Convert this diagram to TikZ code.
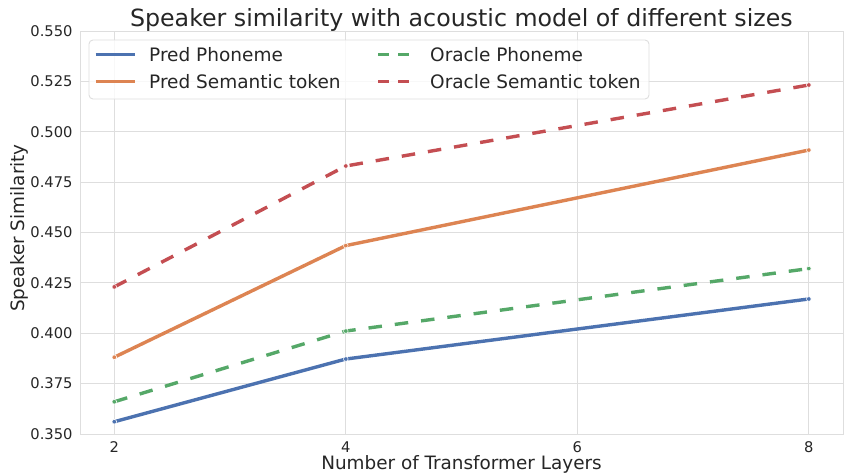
\documentclass[tikz,border=0pt]{standalone}
\usepackage{fontspec}
\setmainfont{DejaVu Sans}
\definecolor{txt}{RGB}{38,38,38}
\definecolor{gridc}{RGB}{222,222,222}
\definecolor{cblue}{HTML}{4C72B0}
\definecolor{corange}{HTML}{DD8452}
\definecolor{cgreen}{HTML}{55A868}
\definecolor{cred}{HTML}{C44E52}
\tikzset{
  gridline/.style={draw=gridc, line width=1pt},
  ticklab/.style={text=txt, inner sep=0pt, font=\fontsize{14.7}{17}\selectfont},
  leglab/.style={text=txt, inner sep=0pt, anchor=base west, font=\fontsize{18.5}{21}\selectfont},
  axlab/.style={text=txt, inner sep=0pt, anchor=base, font=\fontsize{18.4}{21}\selectfont},
  series/.style={line width=3.4pt, line join=round},
  dashedseries/.style={series, dash pattern=on 13.5pt off 13pt},
  legline/.style={line width=3pt},
  legdash/.style={line width=3pt, dash pattern=on 10.7pt off 9.7pt},
  mk/.style={circle, inner sep=0pt, minimum size=4.6pt, fill=#1, draw=white, line width=0.5pt}
}
\begin{document}
\begin{tikzpicture}[x=1pt,y=-1pt]
\useasboundingbox (0,0) rectangle (847,474);
\fill[white] (0,0) rectangle (847,474);
% horizontal grid + y tick labels
\foreach \k/\lab in {0/0.350,1/0.375,2/0.400,3/0.425,4/0.450,5/0.475,6/0.500,7/0.525,8/0.550}{
  \draw[gridline] (80,{434-\k*50.375}) -- (843,{434-\k*50.375});
  \node[ticklab, anchor=east] (ytl\k) at (72.7,{434-\k*50.375}) {\lab};
}
% axes frame
\draw[gridline] (80,31) rectangle (843,434);
% data scope
\begin{scope}[shift={(-117.2pt,-1139.25pt)}, x=115.75pt, y=2015pt]
  \foreach \v in {2,4,6,8}{
    \draw[gridline] (\v,0.35) -- (\v,0.55);
  }
  \coordinate (pp2) at (2,0.3561); \coordinate (pp4) at (4,0.3872); \coordinate (pp8) at (8,0.4170);
  \coordinate (ps2) at (2,0.3881); \coordinate (ps4) at (4,0.4435); \coordinate (ps8) at (8,0.4909);
  \coordinate (op2) at (2,0.3660); \coordinate (op4) at (4,0.4011); \coordinate (op8) at (8,0.4321);
  \coordinate (os2) at (2,0.4230); \coordinate (os4) at (4,0.4830); \coordinate (os8) at (8,0.5232);
\end{scope}
% x tick labels
\foreach \v/\px in {2/114.3,4/345.8,6/577.3,8/808.8}{
  \node[ticklab, anchor=north] (xtl\v) at (\px,441.7) {\v};
}
% series
\draw[series, cblue] (pp2) -- (pp4) -- (pp8);
\draw[series, corange] (ps2) -- (ps4) -- (ps8);
\draw[dashedseries, cgreen] (op2) -- (op4) -- (op8);
\draw[dashedseries, cred] (os2) -- (os4) -- (os8);
\foreach \p in {pp2,pp4,pp8}{\node[mk=cblue] (m\p) at (\p) {};}
\foreach \p in {ps2,ps4,ps8}{\node[mk=corange] (m\p) at (\p) {};}
\foreach \p in {op2,op4,op8}{\node[mk=cgreen] (m\p) at (\p) {};}
\foreach \p in {os2,os4,os8}{\node[mk=cred] (m\p) at (\p) {};}
% legend
\draw[draw=gridc, line width=0.9pt, fill=white, fill opacity=0.8, rounded corners=4pt] (89,40) rectangle (649,99);
\coordinate (l1a) at (95.7,54.3); \coordinate (l1b) at (135,54.3);
\coordinate (l2a) at (95.7,81); \coordinate (l2b) at (135,81);
\coordinate (l3a) at (378,54.3); \coordinate (l3b) at (408.8,54.3);
\coordinate (l4a) at (378,81); \coordinate (l4b) at (408.8,81);
\draw[legline, cblue] (l1a) -- (l1b);
\draw[legline, corange] (l2a) -- (l2b);
\draw[legdash, cgreen] (l3a) -- (l3b);
\draw[legdash, cred] (l4a) -- (l4b);
\node[leglab] (t1) at (149,61.7) {Pred Phoneme};
\node[leglab] (t2) at (149,88.4) {Pred Semantic token};
\node[leglab] (t3) at (430,61.7) {Oracle Phoneme};
\node[leglab] (t4) at (430,88.4) {Oracle Semantic token};
% labels
\node[axlab] (xlab) at (461.5,469.6) {Number of Transformer Layers};
\node[axlab, rotate=90] (ylab) at (24,228) {Speaker Similarity};
\node[text=txt, inner sep=0pt, anchor=base, font=\fontsize{23.7}{28}\selectfont] (title) at (461.4,26) {Speaker similarity with acoustic model of different sizes};
\end{tikzpicture}
\end{document}
